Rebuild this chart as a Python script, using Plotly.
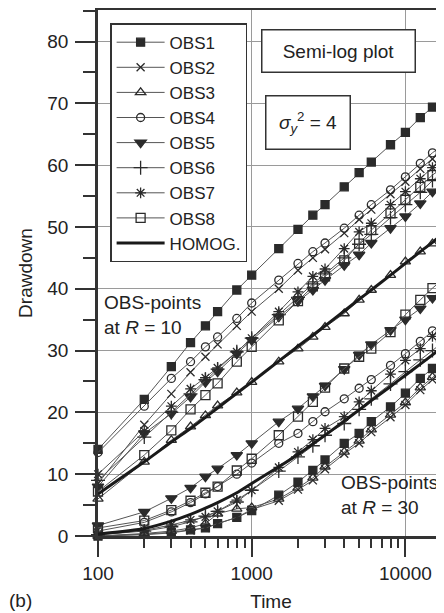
import plotly.graph_objects as go

T = [100, 200, 300, 400, 500, 600, 800, 1000, 1500, 2000, 2500, 3000,
     4000, 5000, 6000, 8000, 10000, 12500, 15000, 17500]

# Drawdown at observation points R = 10
OBS1_R10 = [14.0, 22.1, 27.4, 31.3, 34.0, 36.3, 39.8, 42.2, 46.5, 49.6, 51.9, 53.6, 56.5, 58.8, 60.5, 63.3, 65.3, 67.7, 69.4, 70.8]
OBS2_R10 = [8.5, 18.0, 23.0, 26.5, 29.0, 31.0, 34.0, 36.3, 40.0, 43.0, 45.0, 46.4, 49.0, 51.2, 52.8, 55.3, 57.3, 59.4, 61.0, 62.4]
OBS3_R10 = [6.0, 12.0, 15.5, 17.7, 19.5, 21.1, 23.2, 24.9, 28.2, 30.3, 32.2, 33.8, 36.0, 38.2, 39.8, 42.2, 44.4, 46.0, 47.3, 49.0]
OBS4_R10 = [13.5, 21.0, 25.5, 28.2, 30.6, 32.2, 35.2, 37.7, 41.4, 44.1, 46.0, 47.4, 49.8, 51.9, 53.6, 56.0, 58.1, 60.3, 62.0, 63.2]
OBS5_R10 = [8.0, 16.6, 19.8, 22.5, 24.9, 26.6, 29.5, 31.7, 35.5, 38.0, 39.8, 41.4, 43.8, 45.5, 47.4, 49.8, 51.7, 53.8, 55.7, 57.0]
OBS6_R10 = [9.0, 16.0, 20.0, 23.0, 25.3, 27.0, 29.8, 32.0, 35.8, 38.6, 40.8, 42.4, 45.0, 47.2, 48.8, 51.5, 53.6, 55.6, 57.5, 58.8]
OBS7_R10 = [10.0, 17.0, 21.0, 23.8, 25.6, 27.2, 29.8, 32.0, 36.3, 39.5, 42.0, 43.2, 46.5, 49.2, 50.6, 53.6, 55.7, 57.8, 59.6, 60.8]
OBS8_R10 = [7.2, 13.1, 17.1, 20.5, 22.8, 24.7, 28.2, 30.6, 34.9, 38.0, 40.4, 42.0, 44.6, 47.3, 49.5, 52.2, 54.4, 56.5, 58.4, 59.6]
HOMOG_R10 = [6.8, 12.0, 15.2, 17.4, 19.2, 20.7, 23.1, 24.9, 28.3, 30.7, 32.5, 34.0, 36.4, 38.3, 39.8, 42.2, 44.1, 46.0, 47.5, 48.9]

# Drawdown at observation points R = 30
OBS1_R30 = [0.0, 0.3, 0.6, 1.0, 1.3, 2.0, 3.0, 4.1, 6.6, 8.7, 10.6, 12.3, 15.0, 16.6, 18.5, 20.9, 23.1, 25.5, 27.1, 28.5]
OBS2_R30 = [0.0, 0.2, 0.5, 0.9, 1.3, 2.0, 3.0, 4.3, 5.7, 7.5, 9.0, 10.8, 13.3, 15.0, 16.8, 19.2, 21.2, 23.6, 25.3, 26.7]
OBS3_R30 = [0.0, 0.4, 0.8, 1.3, 2.0, 3.6, 4.4, 4.6, 6.0, 7.8, 9.4, 11.2, 13.6, 15.4, 17.2, 19.6, 21.6, 24.0, 25.7, 27.0]
OBS4_R30 = [0.8, 2.2, 3.9, 5.4, 6.8, 8.0, 10.0, 11.8, 15.0, 16.6, 18.5, 20.1, 22.2, 23.9, 25.3, 27.6, 29.5, 31.5, 33.2, 34.5]
OBS5_R30 = [1.7, 3.9, 6.1, 7.8, 9.6, 10.9, 13.1, 15.0, 18.5, 20.6, 22.6, 24.3, 27.0, 29.3, 31.0, 33.3, 35.0, 36.8, 38.5, 40.0]
OBS6_R30 = [0.2, 0.8, 1.5, 2.3, 3.2, 4.0, 5.5, 7.4, 10.5, 12.8, 14.6, 16.3, 18.2, 20.5, 22.2, 24.6, 26.6, 28.5, 30.0, 31.4]
OBS7_R30 = [0.2, 0.9, 1.8, 2.6, 3.1, 4.0, 5.8, 7.4, 11.1, 13.6, 15.6, 17.4, 19.3, 21.7, 23.5, 26.2, 28.4, 30.3, 32.3, 33.6]
OBS8_R30 = [1.3, 2.5, 4.2, 5.7, 7.0, 8.0, 10.6, 12.5, 16.3, 19.3, 21.7, 24.0, 27.1, 29.0, 30.3, 33.0, 35.8, 38.2, 40.1, 41.5]
HOMOG_R30 = [0.3, 1.2, 2.4, 3.5, 4.5, 5.4, 7.0, 8.5, 11.2, 13.2, 14.9, 16.3, 18.6, 20.4, 21.9, 24.2, 26.0, 27.8, 29.3, 30.6]

NAMES = ["OBS1", "OBS2", "OBS3", "OBS4", "OBS5", "OBS6", "OBS7", "OBS8"]
SERIES_R10 = [OBS1_R10, OBS2_R10, OBS3_R10, OBS4_R10, OBS5_R10, OBS6_R10, OBS7_R10, OBS8_R10]
SERIES_R30 = [OBS1_R30, OBS2_R30, OBS3_R30, OBS4_R30, OBS5_R30, OBS6_R30, OBS7_R30, OBS8_R30]
SYMBOLS = ["square", "x-thin", "triangle-up-open", "circle-open",
           "triangle-down", "cross-thin", "asterisk", "square-open"]
SIZES = [8, 8, 9, 8, 10, 10, 9, 9]

X_TICKS = [100, 1000, 10000]
X_MINOR = [200, 300, 400, 500, 600, 700, 800, 900,
           2000, 3000, 4000, 5000, 6000, 7000, 8000, 9000]

INK = "#2b2b2b"
FONT = "Liberation Sans, Arial, sans-serif"

fig = go.Figure()
for name, y10, y30, sym, sz in zip(NAMES, SERIES_R10, SERIES_R30, SYMBOLS, SIZES):
    fig.add_trace(go.Scatter(
        x=T + [None] + T, y=y10 + [None] + y30, name=name, mode="lines+markers",
        line=dict(color="#555555", width=1),
        marker=dict(symbol=sym, size=sz, color=INK, line=dict(color=INK, width=1.3)),
        cliponaxis=False, connectgaps=False))
fig.add_trace(go.Scatter(
    x=T + [None] + T, y=HOMOG_R10 + [None] + HOMOG_R30, name="HOMOG.", mode="lines",
    line=dict(color="#1a1a1a", width=3, shape="spline", smoothing=0.6), connectgaps=False))

# the page body adds an 8 px offset, so the figure is 8 px smaller than the window
W, H = 436, 605
L, R, TOP, B = 90, 0, 2, 77
YMAX = 85.1

fig.update_layout(
    width=W, height=H, margin=dict(l=L, r=R, t=TOP, b=B, autoexpand=False),
    paper_bgcolor="white", plot_bgcolor="white",
    font=dict(family=FONT, size=19, color="#222222"),
    showlegend=True,
    legend=dict(x=0.035, y=0.975, xanchor="left", yanchor="top",
                bgcolor="white", bordercolor="#333333", borderwidth=1.5,
                font=dict(size=17), itemwidth=48, tracegroupgap=0),
    xaxis=dict(type="log", range=[2, 2 + (W - L - R) / 153.7],
               tickvals=X_TICKS, ticktext=[str(v) for v in X_TICKS],
               automargin=False,
               showgrid=True, gridcolor="#9a9a9a", gridwidth=1.3,
               showline=True, linecolor="#333333", linewidth=2.5, mirror=True,
               ticks="outside", ticklen=18, tickwidth=2, tickcolor="#333333",
               ticklabelstandoff=0,
               minor=dict(tickmode="array", tickvals=X_MINOR, ticks="outside", ticklen=9,
                          tickwidth=2, tickcolor="#333333", showgrid=False),
               title=dict(text="Time", standoff=13, font=dict(size=19)),
               zeroline=False),
    yaxis=dict(range=[0, YMAX], dtick=10, tick0=0, automargin=False,
               showgrid=True, gridcolor="#9a9a9a", gridwidth=1.3,
               showline=True, linecolor="#333333", linewidth=2.5,
               ticks="outside", ticklen=20, tickwidth=2, tickcolor="#333333",
               ticklabelstandoff=3,
               minor=dict(dtick=5, ticks="outside", ticklen=12, tickwidth=2,
                          tickcolor="#333333", showgrid=False),
               title=dict(text="Drawdown", standoff=10, font=dict(size=19)),
               zeroline=False),
    annotations=[
        dict(text="Semi-log plot", xref="paper", yref="paper", x=0.6965, y=0.922,
             xanchor="center", yanchor="middle",
             showarrow=False, bordercolor="#333333", borderwidth=1.5, borderpad=4,
             bgcolor="white", width=144, height=33, font=dict(size=19)),
        dict(text="<i>σ</i><sub><i>y</i></sub><sup>2</sup> = 4", xref="paper", yref="paper",
             x=0.6055, y=0.787, xanchor="center", yanchor="middle",
             showarrow=False, bordercolor="#333333", borderwidth=1.5,
             borderpad=4, bgcolor="white", width=75, height=44, font=dict(size=19)),
        dict(text="OBS-points<br>at <i>R</i> = 10", xref="paper", yref="paper",
             x=0.012, y=0.42, xanchor="left", yanchor="middle", align="left",
             showarrow=False, font=dict(size=19)),
        dict(text="OBS-points<br>at <i>R</i> = 30", xref="paper", yref="paper",
             x=0.6965, y=0.077, xanchor="left", yanchor="middle", align="left",
             showarrow=False, font=dict(size=19)),
        dict(text="(b)", xref="paper", yref="paper", x=-0.225, y=-0.122,
             xanchor="center", yanchor="middle", showarrow=False, font=dict(size=19)),
    ],
)

fig.write_html("out.html")
